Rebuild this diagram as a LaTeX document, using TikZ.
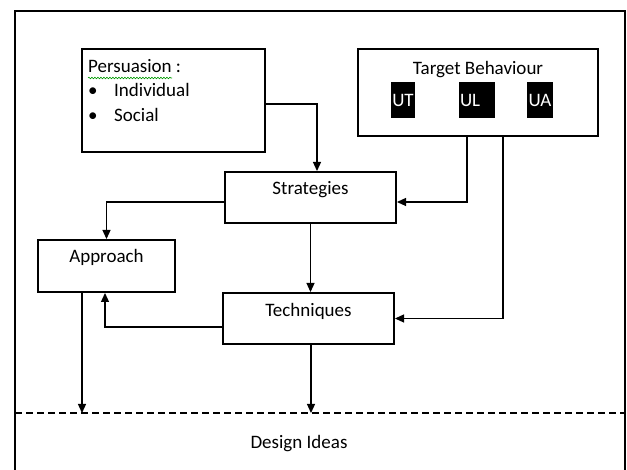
\documentclass[tikz,border=0pt]{standalone}
\usepackage{fontspec}
\setmainfont{Carlito}
\usetikzlibrary{arrows.meta,decorations.pathmorphing}

\begin{document}
\begin{tikzpicture}[
		x=1pt, y=-1pt,
		font=\fontsize{19}{24}\selectfont,
		% okvir s tekstom pri vrhu
		boxed/.style={draw, line width=2pt, inner xsep=0pt, inner ysep=0pt, anchor=north west},
		tagbox/.style={fill=black, text=white, inner sep=0pt, minimum height=36pt},
		plain/.style={inner sep=0pt, anchor=base west},
		arrowline/.style={line width=1.2pt, -{Triangle[length=9pt,width=8pt]}}
		]
		\useasboundingbox (0,0) rectangle (627,470);
		\draw[line width=2pt] (15,470) -- (15,11) -- (625,11) -- (625,470);
		\coordinate (ideasleft) at (15,413);
		\coordinate (ideasright) at (625,413);
		\draw[line width=1.5pt, dash pattern=on 7pt off 4pt] (ideasleft) -- (ideasright);

		\node[boxed, minimum width=183pt, minimum height=103pt] (persuasion) at (81,48) {};
		\node[plain] (persuasionhead) at (88,73) {Persuasion :};
		\draw[green!60!black, line width=0.6pt, decorate, decoration={snake, amplitude=0.8pt, segment length=3pt}]
			([yshift=-5pt]persuasionhead.base west) -- ++(84,0);
		\node[plain] (individual) at (88,97) {\makebox[26pt][l]{\textbullet}Individual};
		\node[plain] (social) at (88,122) {\makebox[26pt][l]{\textbullet}Social};

		\node[boxed, minimum width=240pt, text height=26pt, text depth=61pt] (target) at (357,48) {Target Behaviour};
		\node[tagbox, minimum width=24pt] (ut) at (403,100) {UT};
		\node[tagbox, text width=34pt, inner xsep=1pt, align=left] (ul) at (477,100) {UL};
		\node[tagbox, minimum width=26pt] (ua) at (540,100) {UA};

		\node[boxed, minimum width=171pt, text height=23pt, text depth=28pt] (strategies) at (224,171) {Strategies};
		\node[boxed, minimum width=137pt, text height=23pt, text depth=29pt] (approach) at (37,239) {Approach};
		\node[boxed, minimum width=171pt, text height=24pt, text depth=27pt] (techniques) at (222,292) {Techniques};
		\node[anchor=base, inner sep=0pt] (ideas) at (299,449) {Design Ideas};

		\draw[arrowline] ([yshift=-3.5pt]persuasion.east) -| ([xshift=6.5pt]strategies.north);
		\draw[arrowline] ([xshift=-11pt]target.south) |- ([yshift=-4.5pt]strategies.east);
		\draw[arrowline] ([xshift=25pt]target.south) |- (techniques.east);
		\draw[arrowline] ([yshift=-4.5pt]strategies.west) -| (approach.north);
		\draw[arrowline] (strategies.south) -- (strategies.south |- techniques.north);
		\draw[arrowline] ([yshift=-8.5pt]techniques.west) -| ([xshift=-1.5pt]approach.south);
		\draw[arrowline] ([xshift=-24.5pt]approach.south) -- ([xshift=-24.5pt]approach.south |- ideasleft);
		\draw[arrowline] ([xshift=2.5pt]techniques.south) -- ([xshift=2.5pt]techniques.south |- ideasleft);
	\end{tikzpicture}
\end{document}
